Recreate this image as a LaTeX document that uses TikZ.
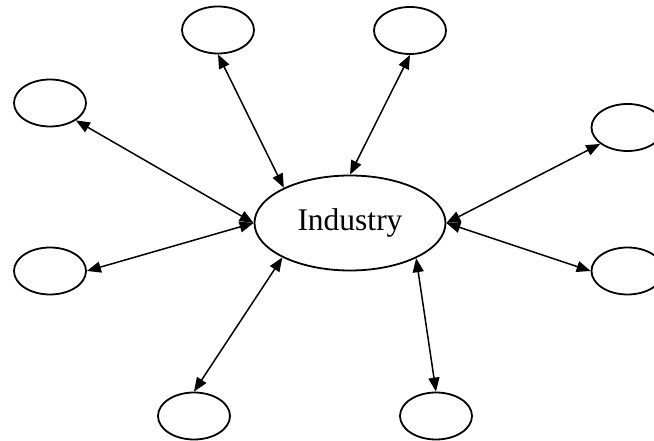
\documentclass[tikz,border=0pt]{standalone}
\usepackage{fontspec}
\setmainfont{Liberation Serif}
\usetikzlibrary{shapes.geometric,arrows.meta}

\begin{document}
\begin{tikzpicture}[x=1pt,y=1pt,
  hub/.style={ellipse,draw,line width=1.8pt,minimum width=191pt,minimum height=95pt,inner sep=0pt,font=\fontsize{31.5}{36}\selectfont},
  leaf/.style={ellipse,draw,line width=1.8pt,minimum width=72pt,minimum height=47pt,inner sep=0pt},
  link/.style={{Triangle[length=14pt,width=11pt]}-{Triangle[length=14pt,width=11pt]},line width=1.5pt}]
\useasboundingbox (0,0) rectangle (654,441);
\node [hub] (industry) at (350,218) {Industry};
\node [leaf] (topl) at (218,411) {};
\node [leaf] (topr) at (410,410.5) {};
\node [leaf] (leftu) at (50,338) {};
\node [leaf] (leftd) at (50,170) {};
\node [leaf] (rightu) at (627.5,313.5) {};
\node [leaf] (rightd) at (627.5,170) {};
\node [leaf] (botl) at (194,25) {};
\node [leaf] (botr) at (436,25) {};
\draw [link] (topl.south) -- (industry.152);
\draw [link] (topr.south) -- (industry.north);
\draw [link] (leftu.-34) -- (industry.west);
\draw [link] (leftd.east) -- (industry.west);
\draw [link] (rightu.211) -- (industry.east);
\draw [link] (rightd.west) -- (industry.east);
\draw [link] (botl.north) -- (industry.-153);
\draw [link] (botr.north) -- (industry.-28);
\end{tikzpicture}
\end{document}
